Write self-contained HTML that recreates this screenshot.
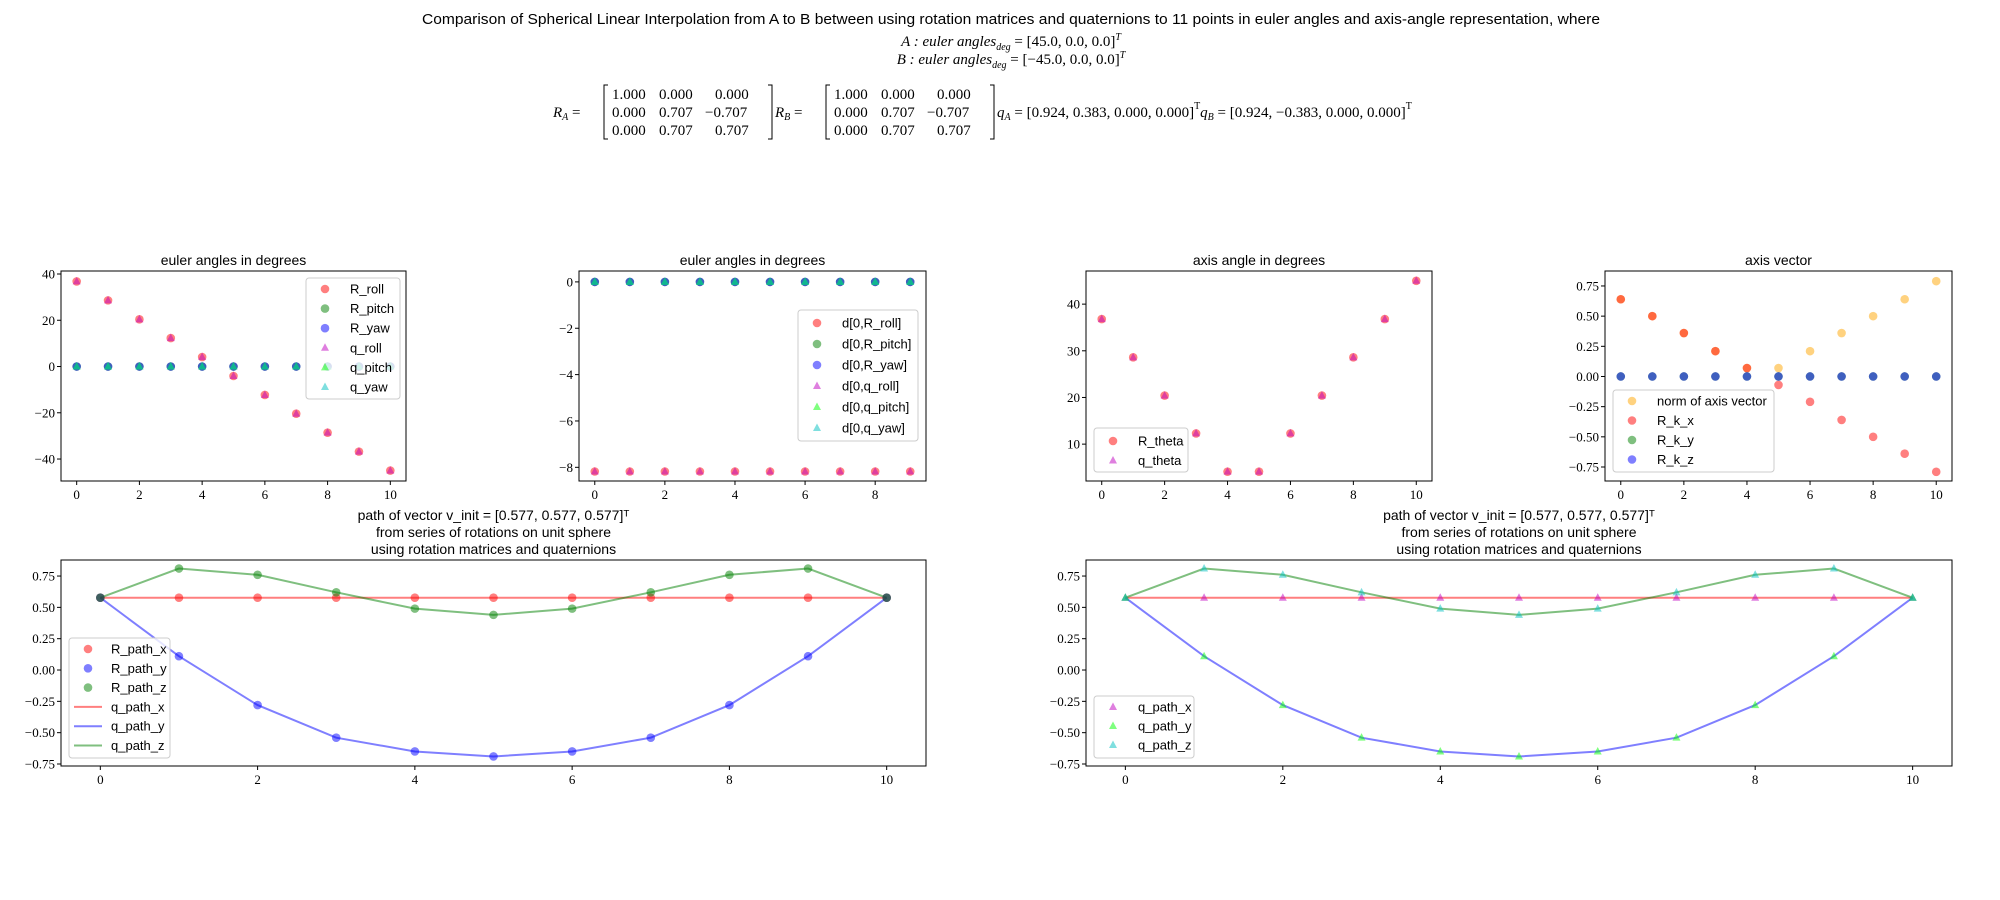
<!DOCTYPE html>
<html><head><meta charset="utf-8">
<style>
body{margin:0;background:#fff;}
svg{display:block;}
text{font-family:"Liberation Serif",serif;fill:#000;}
.t{font-family:"Liberation Sans",sans-serif;}
</style></head>
<body>
<svg id="fig" width="2000" height="900" viewBox="0 0 2000 900" xmlns="http://www.w3.org/2000/svg">
<rect width="2000" height="900" fill="#fff"/>
<g>
<text class="t" x="1011" y="24" text-anchor="middle" font-size="15" textLength="1178" lengthAdjust="spacingAndGlyphs">Comparison of Spherical Linear Interpolation from A to B between using rotation matrices and quaternions to 11 points in euler angles and axis-angle representation, where</text>
<text x="1011" y="46" text-anchor="middle" font-size="15" font-style="italic">A : euler angles<tspan font-size="10" dy="4">deg</tspan><tspan dy="-4" font-style="normal"> = [45.0, 0.0, 0.0]</tspan><tspan font-size="10" dy="-6">T</tspan></text>
<text x="1011" y="64" text-anchor="middle" font-size="15" font-style="italic">B : euler angles<tspan font-size="10" dy="4">deg</tspan><tspan dy="-4" font-style="normal"> = [−45.0, 0.0, 0.0]</tspan><tspan font-size="10" dy="-6">T</tspan></text>
<g font-size="15">
<text x="553" y="117" font-style="italic">R<tspan font-size="10" dy="3">A</tspan><tspan dy="-3" font-style="normal"> =</tspan></text>
<path d="M608 85h-4v54h4M768 85h4v54h-4" stroke="#000" fill="none"/>
<text x="612" y="99">1.000</text><text x="659" y="99">0.000</text><text x="715" y="99">0.000</text>
<text x="612" y="117">0.000</text><text x="659" y="117">0.707</text><text x="705" y="117">−0.707</text>
<text x="612" y="135">0.000</text><text x="659" y="135">0.707</text><text x="715" y="135">0.707</text>
<text x="775" y="117" font-style="italic">R<tspan font-size="10" dy="3">B</tspan><tspan dy="-3" font-style="normal"> =</tspan></text>
<path d="M830 85h-4v54h4M990 85h4v54h-4" stroke="#000" fill="none"/>
<text x="834" y="99">1.000</text><text x="881" y="99">0.000</text><text x="937" y="99">0.000</text>
<text x="834" y="117">0.000</text><text x="881" y="117">0.707</text><text x="927" y="117">−0.707</text>
<text x="834" y="135">0.000</text><text x="881" y="135">0.707</text><text x="937" y="135">0.707</text>
<text x="997" y="117" font-style="italic">q<tspan font-size="10" dy="3">A</tspan><tspan dy="-3" font-style="normal"> = [0.924, 0.383, 0.000, 0.000]</tspan><tspan font-size="10" dy="-8" font-style="normal">T</tspan><tspan dy="8">q</tspan><tspan font-size="10" dy="3">B</tspan><tspan dy="-3" font-style="normal"> = [0.924, −0.383, 0.000, 0.000]</tspan><tspan font-size="10" dy="-8" font-style="normal">T</tspan></text>
</g>
</g>
</svg>
<script>
const idx11=[0,1,2,3,4,5,6,7,8,9,10];
const idx10=[0,1,2,3,4,5,6,7,8,9];
const rRoll=[36.8,28.6,20.4,12.3,4.1,-4.1,-12.3,-20.4,-28.6,-36.8,-45];
const zeros11=[0,0,0,0,0,0,0,0,0,0,0];
const dRoll=[-8.18,-8.18,-8.18,-8.18,-8.18,-8.18,-8.18,-8.18,-8.18,-8.18];
const zeros10=[0,0,0,0,0,0,0,0,0,0];
const theta=[36.8,28.6,20.4,12.3,4.1,4.1,12.3,20.4,28.6,36.8,45];
const axNorm=[0.64,0.5,0.36,0.21,0.07,0.07,0.21,0.36,0.5,0.64,0.79];
const kx=[0.64,0.5,0.36,0.21,0.07,-0.07,-0.21,-0.36,-0.5,-0.64,-0.79];
const pathX=[0.577,0.577,0.577,0.577,0.577,0.577,0.577,0.577,0.577,0.577,0.577];
const pathY=[0.577,0.11,-0.28,-0.54,-0.65,-0.69,-0.65,-0.54,-0.28,0.11,0.577];
const pathZ=[0.577,0.81,0.76,0.62,0.49,0.44,0.49,0.62,0.76,0.81,0.577];
const ticks1=[-40,-20,0,20,40];
const ticks2=[-8,-6,-4,-2,0];
const ticks3=[10,20,30,40];
const ticks4=[-0.75,-0.5,-0.25,0,0.25,0.5,0.75];
const xticksEven=[0,2,4,6,8,10];
const xticks10=[0,2,4,6,8];

const NS="http://www.w3.org/2000/svg";
const fig=document.getElementById('fig');
function el(tag,attrs,parent){const e=document.createElementNS(NS,tag);for(const k in attrs)e.setAttribute(k,attrs[k]);(parent||fig).appendChild(e);return e;}
const C={r:'#ff0000',g:'#008000',b:'#0000ff',m:'#bf00bf',l:'#00ff00',c:'#00bfbf',o:'#ffa500'};
function fmt(v,dec){let s=v.toFixed(dec);if(v<0)s='−'+s.slice(1);return s;}

function panel(p){
  const g=el('g',{});
  
  
  const sx=v=>p.x0+(v-p.xmin)/(p.xmax-p.xmin)*(p.x1-p.x0);
  const sy=v=>p.y1-(v-p.ymin)/(p.ymax-p.ymin)*(p.y1-p.y0);
  p.titles.forEach((t,i)=>{const tt=el('text',{x:(p.x0+p.x1)/2,y:p.y0-6-(p.titles.length-1-i)*17,'text-anchor':'middle','font-size':14,class:'t'},g);tt.textContent=t;
    
    });
  p.yticks.forEach(v=>{const y=sy(v);el('line',{x1:p.x0-4,x2:p.x0,y1:y,y2:y,stroke:'#000'},g);
    const t=el('text',{x:p.x0-6,y:y+4.5,'text-anchor':'end','font-size':13},g);t.textContent=fmt(v,p.ydec);
    
    });
  p.xticks.forEach(v=>{const x=sx(v);el('line',{x1:x,x2:x,y1:p.y1,y2:p.y1+4,stroke:'#000'},g);
    const t=el('text',{x:x,y:p.y1+18,'text-anchor':'middle','font-size':13},g);t.textContent=fmt(v,0);
    
    });
  (p.lines||[]).forEach(s=>{const pl=el('polyline',{points:s.x.map((v,i)=>sx(v)+','+sy(s.y[i])).join(' '),fill:'none',stroke:C[s.c],'stroke-width':2,'stroke-opacity':0.5},g);
    
    });
  p.series.forEach(s=>{s.x.forEach((v,i)=>{const x=sx(v),y=sy(s.y[i]);let m;
    if(s.m==='o')m=el('circle',{cx:x,cy:y,r:4.3,fill:C[s.c],'fill-opacity':0.5},g);
    else m=el('path',{d:`M${x},${y-4.5}L${x+4},${y+3}L${x-4},${y+3}Z`,fill:C[s.c],'fill-opacity':0.5},g);
    
    });});
  el('rect',{x:p.x0,y:p.y0,width:p.x1-p.x0,height:p.y1-p.y0,fill:'none',stroke:'#000','stroke-width':1},g);
  const L=p.leg;const lg=el('g',{},g);
  
  
  el('rect',{x:L.x,y:L.y,width:L.w,height:L.h,rx:3,fill:'#fff','fill-opacity':0.8,stroke:'#ccc'},lg);
  L.items.forEach((it,i)=>{const y=L.y+L.first+i*L.step;const mx=L.x+19;
    if(it.m==='o')el('circle',{cx:mx,cy:y,r:4.3,fill:C[it.c],'fill-opacity':0.5},lg);
    else if(it.m==='^')el('path',{d:`M${mx},${y-4.5}L${mx+4},${y+3}L${mx-4},${y+3}Z`,fill:C[it.c],'fill-opacity':0.5},lg);
    else el('line',{x1:L.x+5,x2:L.x+33,y1:y,y2:y,stroke:C[it.c],'stroke-width':2,'stroke-opacity':0.5},lg);
    const t=el('text',{x:L.x+L.tx,y:y+4.5,'font-size':13,class:'t'},lg);t.textContent=it.label;
    
    });
}

panel({name:'euler-angles-panel',x0:61,x1:406,y0:271,y1:481,xmin:-0.5,xmax:10.5,ymin:-49.5,ymax:41.3,yticks:ticks1,ydec:0,xticks:xticksEven,titles:['euler angles in degrees'],
 series:[{x:idx11,y:rRoll,c:'r',m:'o',label:'R_roll'},{x:idx11,y:zeros11,c:'g',m:'o',label:'R_pitch'},{x:idx11,y:zeros11,c:'b',m:'o',label:'R_yaw'},
 {x:idx11,y:rRoll,c:'m',m:'^',label:'q_roll'},{x:idx11,y:zeros11,c:'l',m:'^',label:'q_pitch'},{x:idx11,y:zeros11,c:'c',m:'^',label:'q_yaw'}],
 leg:{x:306,y:278,w:94,h:121,first:11,step:19.6,tx:44,items:[{m:'o',c:'r',label:'R_roll'},{m:'o',c:'g',label:'R_pitch'},{m:'o',c:'b',label:'R_yaw'},{m:'^',c:'m',label:'q_roll'},{m:'^',c:'l',label:'q_pitch'},{m:'^',c:'c',label:'q_yaw'}]}});

panel({name:'euler-diff-panel',x0:579,x1:926,y0:271,y1:481,xmin:-0.45,xmax:9.45,ymin:-8.59,ymax:0.47,yticks:ticks2,ydec:0,xticks:xticks10,titles:['euler angles in degrees'],
 series:[{x:idx10,y:dRoll,c:'r',m:'o',label:'d-R_roll'},{x:idx10,y:zeros10,c:'g',m:'o',label:'d-R_pitch'},{x:idx10,y:zeros10,c:'b',m:'o',label:'d-R_yaw'},
 {x:idx10,y:dRoll,c:'m',m:'^',label:'d-q_roll'},{x:idx10,y:zeros10,c:'l',m:'^',label:'d-q_pitch'},{x:idx10,y:zeros10,c:'c',m:'^',label:'d-q_yaw'}],
 leg:{x:798,y:310,w:120,h:131,first:13,step:21,tx:44,items:[{m:'o',c:'r',label:'d[0,R_roll]'},{m:'o',c:'g',label:'d[0,R_pitch]'},{m:'o',c:'b',label:'d[0,R_yaw]'},{m:'^',c:'m',label:'d[0,q_roll]'},{m:'^',c:'l',label:'d[0,q_pitch]'},{m:'^',c:'c',label:'d[0,q_yaw]'}]}});

panel({name:'axis-angle-panel',x0:1086,x1:1432,y0:271,y1:481,xmin:-0.5,xmax:10.5,ymin:2.1,ymax:47.1,yticks:ticks3,ydec:0,xticks:xticksEven,titles:['axis angle in degrees'],
 series:[{x:idx11,y:theta,c:'r',m:'o',label:'R_theta'},{x:idx11,y:theta,c:'m',m:'^',label:'q_theta'}],
 leg:{x:1094,y:428,w:94,h:44,first:13,step:19.5,tx:44,items:[{m:'o',c:'r',label:'R_theta'},{m:'^',c:'m',label:'q_theta'}]}});

panel({name:'axis-vector-panel',x0:1605,x1:1952,y0:271,y1:481,xmin:-0.5,xmax:10.5,ymin:-0.866,ymax:0.874,yticks:ticks4,ydec:2,xticks:xticksEven,titles:['axis vector'],
 series:[{x:idx11,y:axNorm,c:'o',m:'o',label:'norm'},{x:idx11,y:kx,c:'r',m:'o',label:'R_k_x'},{x:idx11,y:zeros11,c:'g',m:'o',label:'R_k_y'},{x:idx11,y:zeros11,c:'b',m:'o',label:'R_k_z'}],
 leg:{x:1613,y:390,w:161,h:82,first:11,step:19.5,tx:44,items:[{m:'o',c:'o',label:'norm of axis vector'},{m:'o',c:'r',label:'R_k_x'},{m:'o',c:'g',label:'R_k_y'},{m:'o',c:'b',label:'R_k_z'}]}});

const ptitle=['path of vector v_init = [0.577, 0.577, 0.577]ᵀ','from series of rotations on unit sphere','using rotation matrices and quaternions'];
panel({name:'path-rotation-matrix-panel',x0:61,x1:926,y0:560,y1:766,xmin:-0.5,xmax:10.5,ymin:-0.766,ymax:0.878,yticks:ticks4,ydec:2,xticks:xticksEven,titles:ptitle,
 lines:[{x:idx11,y:pathX,c:'r',label:'q_path_x'},{x:idx11,y:pathY,c:'b',label:'q_path_y'},{x:idx11,y:pathZ,c:'g',label:'q_path_z'}],
 series:[{x:idx11,y:pathX,c:'r',m:'o',label:'R_path_x'},{x:idx11,y:pathY,c:'b',m:'o',label:'R_path_y'},{x:idx11,y:pathZ,c:'g',m:'o',label:'R_path_z'}],
 leg:{x:69,y:638,w:101,h:120,first:11,step:19.3,tx:42,items:[{m:'o',c:'r',label:'R_path_x'},{m:'o',c:'b',label:'R_path_y'},{m:'o',c:'g',label:'R_path_z'},{m:'-',c:'r',label:'q_path_x'},{m:'-',c:'b',label:'q_path_y'},{m:'-',c:'g',label:'q_path_z'}]}});

panel({name:'path-quaternion-panel',x0:1086,x1:1952,y0:560,y1:766,xmin:-0.5,xmax:10.5,ymin:-0.766,ymax:0.878,yticks:ticks4,ydec:2,xticks:xticksEven,titles:ptitle,
 lines:[{x:idx11,y:pathX,c:'r',label:'path_x'},{x:idx11,y:pathY,c:'b',label:'path_y'},{x:idx11,y:pathZ,c:'g',label:'path_z'}],
 series:[{x:idx11,y:pathX,c:'m',m:'^',label:'q_path_x'},{x:idx11,y:pathY,c:'l',m:'^',label:'q_path_y'},{x:idx11,y:pathZ,c:'c',m:'^',label:'q_path_z'}],
 leg:{x:1094,y:696,w:100,h:62,first:11,step:19,tx:44,items:[{m:'^',c:'m',label:'q_path_x'},{m:'^',c:'l',label:'q_path_y'},{m:'^',c:'c',label:'q_path_z'}]}});
</script>
</body></html>
